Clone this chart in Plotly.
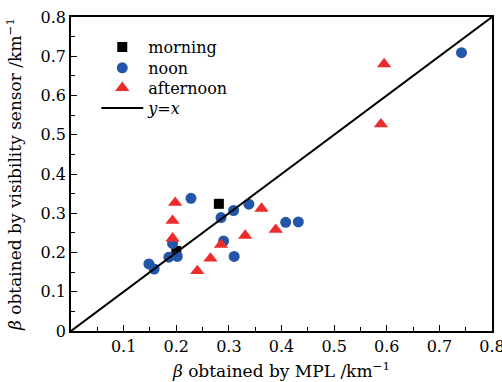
import plotly.graph_objects as go

# Data
morning_x = [0.281, 0.200]
morning_y = [0.324, 0.204]

noon_x = [0.228, 0.285, 0.309, 0.338, 0.408, 0.432, 0.290, 0.310, 0.193, 0.186, 0.202, 0.148, 0.158, 0.742]
noon_y = [0.338, 0.289, 0.307, 0.323, 0.277, 0.278, 0.229, 0.190, 0.223, 0.188, 0.190, 0.171, 0.158, 0.709]

afternoon_x = [0.198, 0.193, 0.193, 0.240, 0.265, 0.285, 0.331, 0.362, 0.389, 0.595, 0.589]
afternoon_y = [0.327, 0.281, 0.236, 0.153, 0.185, 0.220, 0.243, 0.312, 0.258, 0.680, 0.527]

line_x = [0, 0.8]
line_y = [0, 0.8]

x_ticks = [0.1, 0.2, 0.3, 0.4, 0.5, 0.6, 0.7, 0.8]
y_ticks = [0, 0.1, 0.2, 0.3, 0.4, 0.5, 0.6, 0.7, 0.8]

FONT = "DejaVu Serif"

fig = go.Figure()
fig.add_trace(go.Scatter(x=morning_x, y=morning_y, mode="markers", name="morning", legend="legend",
                         marker=dict(symbol="square", size=10, color="black")))
fig.add_trace(go.Scatter(x=noon_x, y=noon_y, mode="markers", name="noon", legend="legend2",
                         marker=dict(symbol="circle", size=11, color="#2356A8")))
fig.add_trace(go.Scatter(x=afternoon_x, y=afternoon_y, mode="markers", name="afternoon", legend="legend3",
                         marker=dict(symbol="triangle-up", size=12.5, color="#EE2B2B")))
fig.add_trace(go.Scatter(x=line_x, y=line_y, mode="lines", name="<i>y</i>=<i>x</i>", legend="legend4",
                         line=dict(color="black", width=2)))

axis_common = dict(
    showline=True, linecolor="black", linewidth=1.5, mirror=True,
    ticks="inside", ticklen=6, tickwidth=1, tickcolor="black",
    showgrid=False, zeroline=False, automargin=False, ticklabeloverflow="allow",
    tickfont=dict(family=FONT, size=16, color="black"),
    minor=dict(ticks="inside", ticklen=4, tickwidth=1, tickcolor="black", dtick=0.05, tick0=0),
)

fig.update_xaxes(range=[0, 0.8], tickvals=x_ticks, ticktext=[str(v) for v in x_ticks],
                 title=dict(text="<i>β</i> obtained by MPL /km<sup>−1</sup>",
                            font=dict(family=FONT, size=17, color="black"), standoff=10),
                 **axis_common)
fig.update_yaxes(range=[0, 0.8], tickvals=y_ticks, ticktext=["0"] + [str(v) for v in y_ticks[1:]],
                 title=dict(text="<i>β</i> obtained by visibility sensor /km<sup>−1</sup>",
                            font=dict(family=FONT, size=17, color="black"), standoff=15),
                 **axis_common)

leg = dict(xanchor="left", yanchor="middle", bgcolor="rgba(0,0,0,0)",
           font=dict(family=FONT, size=16, color="black"), itemwidth=42)
leg_x = 0.060
fig.update_layout(
    width=502, height=382,
    margin=dict(l=71, r=10, t=17, b=51),
    plot_bgcolor="white", paper_bgcolor="white",
    font=dict(family=FONT, size=16, color="black"),
    showlegend=True,
    legend=dict(x=leg_x, y=0.904, **leg),
    legend2=dict(x=leg_x, y=0.838, **leg),
    legend3=dict(x=leg_x, y=0.774, **leg),
    legend4=dict(x=leg_x, y=0.710, **leg),
)

# remove the default 8px page margin so the 502x382 figure fills the window exactly
fig.write_html("out.html", config={"displayModeBar": False},
               post_script="document.body.style.margin='0px';document.body.style.overflow='hidden';")
